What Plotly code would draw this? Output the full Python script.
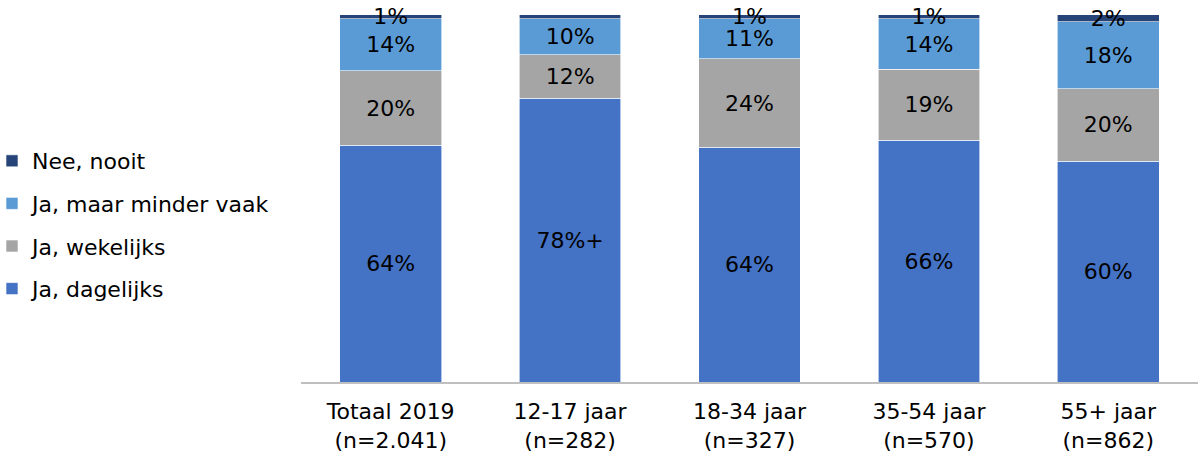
import plotly.graph_objects as go

categories = ["Totaal 2019<br>(n=2.041)", "12-17 jaar<br>(n=282)", "18-34 jaar<br>(n=327)",
              "35-54 jaar<br>(n=570)", "55+ jaar<br>(n=862)"]

dagelijks = [64.4, 77.2, 63.9, 65.8, 60.1]
wekelijks = [20.4, 11.9, 24.1, 19.3, 19.8]
minder_vaak = [14.1, 9.8, 10.9, 13.8, 18.2]
nooit = [1.1, 1.1, 1.1, 1.1, 1.9]

dagelijks_labels = ["64%", "78%+", "64%", "66%", "60%"]
wekelijks_labels = ["20%", "12%", "24%", "19%", "20%"]
minder_vaak_labels = ["14%", "10%", "11%", "14%", "18%"]
nooit_labels = ["1%", "", "1%", "1%", "2%"]

series = [
    ("Ja, dagelijks", dagelijks, dagelijks_labels, "#4472C4"),
    ("Ja, wekelijks", wekelijks, wekelijks_labels, "#A5A5A5"),
    ("Ja, maar minder vaak", minder_vaak, minder_vaak_labels, "#5B9BD5"),
    ("Nee, nooit", nooit, nooit_labels, "#264478"),
]

FONT = "DejaVu Sans, Verdana, sans-serif"
FS = 22

fig = go.Figure()
for i, (name, vals, labels, color) in enumerate(series):
    fig.add_trace(go.Bar(
        x=categories, y=vals, name=name, text=labels,
        textposition="inside", insidetextanchor="middle",
        textfont=dict(family=FONT, size=FS, color="black"),
        marker=dict(color=color, line=dict(color="white", width=0.6)),
        legendgroup=f"g{i}", legendrank=1000 - i,
        cliponaxis=False,
    ))

W, H = 1198, 453
ML, MT, MB = 301, 14, 71
plot_w = W - ML

fig.update_layout(
    width=W, height=H,
    barmode="stack", bargap=0.433,
    plot_bgcolor="white", paper_bgcolor="white",
    margin=dict(l=ML, r=0, t=MT, b=MB, autoexpand=False),
    font=dict(family=FONT, size=FS, color="black"),
    uniformtext=dict(minsize=FS, mode="show"),
    showlegend=True,
    legend=dict(
        xref="paper", yref="container", x=(-8 - ML) / plot_w, y=1 - 225 / H,
        xanchor="left", yanchor="middle",
        traceorder="grouped", tracegroupgap=11,
        font=dict(family=FONT, size=FS, color="black"),
        bgcolor="rgba(0,0,0,0)",
    ),
    xaxis=dict(
        showline=True, linecolor="#BFBFBF", linewidth=1.5,
        ticks="", showgrid=False, ticklabelstandoff=9,
        tickfont=dict(family=FONT, size=FS, color="black"),
    ),
    yaxis=dict(range=[0, 100.2], visible=False, showgrid=False),
)

fig.write_html("out.html", config={"displayModeBar": False},
               post_script="document.body.style.margin='0';")
